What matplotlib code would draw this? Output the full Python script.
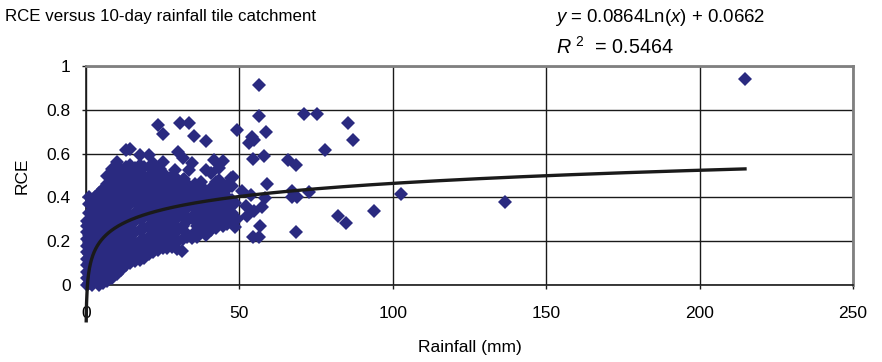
import numpy as np
import matplotlib
matplotlib.use("Agg")
import matplotlib.pyplot as plt

# ---- data ----
# dense cluster, organised by rainfall column (mm) -> RCE values in that column
cluster_rain = [0.3, 1.0, 2.0, 3.0, 4.2, 5.5, 7.0, 8.5, 10.0, 11.5, 13.0, 14.5,
                16.0, 17.5, 19.0, 20.5, 22.0, 23.5, 25.0, 26.5, 28.0, 30.0,
                31.5, 33.0, 34.7, 36.2, 37.5, 39.0, 40.7, 42.5, 44.5, 46.1,
                24.2, 27.3, 29.2, 32.2, 35.5, 38.3, 41.5, 43.5, 45.3, 47.5]
cluster_rce = [
    [0.0, 0.03, 0.06, 0.09, 0.12, 0.15, 0.18, 0.21, 0.24, 0.27, 0.29],
    [0.01, 0.05, 0.10, 0.14, 0.19, 0.23, 0.28, 0.33, 0.37, 0.40],
    [0.0, 0.04, 0.08, 0.12, 0.16, 0.20, 0.25, 0.30, 0.34, 0.38],
    [0.02, 0.06, 0.11, 0.15, 0.19, 0.22, 0.27, 0.31, 0.35, 0.40],
    [0.0, 0.04, 0.09, 0.13, 0.18, 0.23, 0.26, 0.30, 0.34, 0.38, 0.42],
    [0.01, 0.05, 0.08, 0.12, 0.16, 0.21, 0.25, 0.29, 0.33, 0.37, 0.41, 0.44],
    [0.02, 0.06, 0.10, 0.14, 0.18, 0.22, 0.27, 0.31, 0.35, 0.39, 0.43, 0.46, 0.50],
    [0.03, 0.07, 0.11, 0.15, 0.20, 0.24, 0.28, 0.33, 0.37, 0.41, 0.45, 0.49, 0.53],
    [0.05, 0.09, 0.13, 0.17, 0.21, 0.26, 0.30, 0.34, 0.38, 0.42, 0.47, 0.51, 0.56],
    [0.07, 0.11, 0.15, 0.19, 0.23, 0.27, 0.32, 0.36, 0.40, 0.44, 0.48, 0.53],
    [0.09, 0.13, 0.17, 0.22, 0.26, 0.30, 0.35, 0.39, 0.43, 0.46, 0.50, 0.54, 0.615],
    [0.10, 0.14, 0.18, 0.22, 0.28, 0.32, 0.37, 0.41, 0.45, 0.49, 0.52, 0.55, 0.62],
    [0.11, 0.15, 0.19, 0.24, 0.29, 0.33, 0.38, 0.42, 0.46, 0.50, 0.534],
    [0.115, 0.16, 0.20, 0.25, 0.30, 0.35, 0.39, 0.43, 0.48, 0.51, 0.55, 0.595],
    [0.125, 0.17, 0.21, 0.26, 0.31, 0.36, 0.40, 0.45, 0.49, 0.54],
    [0.14, 0.18, 0.22, 0.27, 0.33, 0.37, 0.42, 0.46, 0.50, 0.595],
    [0.15, 0.19, 0.24, 0.29, 0.34, 0.39, 0.43, 0.48, 0.52, 0.557],
    [0.16, 0.20, 0.25, 0.30, 0.36, 0.41, 0.45, 0.50, 0.732],
    [0.168, 0.21, 0.26, 0.32, 0.37, 0.42, 0.47, 0.51, 0.56, 0.69],
    [0.17, 0.22, 0.28, 0.33, 0.39, 0.44, 0.48],
    [0.175, 0.23, 0.29, 0.35, 0.40, 0.45, 0.50],
    [0.20, 0.25, 0.31, 0.36, 0.41, 0.46, 0.607],
    [0.21, 0.27, 0.33, 0.38, 0.44, 0.48, 0.58],
    [0.22, 0.29, 0.35, 0.40, 0.45],
    [0.215, 0.31, 0.37, 0.42, 0.557],
    [0.22, 0.27, 0.34, 0.39, 0.44],
    [0.25, 0.30, 0.36, 0.41, 0.47],
    [0.23, 0.29, 0.34, 0.40, 0.526],
    [0.25, 0.31, 0.37, 0.43, 0.511],
    [0.26, 0.32, 0.36, 0.41, 0.47],
    [0.27, 0.33, 0.39, 0.44, 0.565],
    [0.28, 0.35, 0.40, 0.458],
    [0.18, 0.23, 0.28, 0.34, 0.39, 0.44, 0.48, 0.53],
    [0.19, 0.25, 0.31, 0.37, 0.42, 0.47],
    [0.21, 0.27, 0.33, 0.38, 0.43, 0.49],
    [0.24, 0.30, 0.36, 0.42, 0.47],
    [0.24, 0.29, 0.35, 0.40, 0.46],
    [0.26, 0.32, 0.38, 0.44],
    [0.27, 0.34, 0.39, 0.45],
    [0.29, 0.35, 0.42, 0.48],
    [0.30, 0.37, 0.43],
    [0.33, 0.39, 0.45],
]

# individually visible points
sparse_rain = [29.6, 31.2, 29.0, 30.7, 32.0, 33.7, 33.7, 35.2, 39.2, 41.7, 43.4,
               47.2, 47.8, 48.6, 48.6, 48.6, 49.3, 49.3, 51.0, 52.2, 52.4, 53.0,
               53.7, 54.0, 54.3, 54.3, 54.8, 54.8, 56.4, 56.4, 56.4, 56.7, 57.3,
               58.0, 58.4, 58.6, 58.9, 65.7, 67.0, 67.0, 68.5, 68.5, 68.9, 71.2,
               72.8, 75.2, 77.9, 82.3, 84.7, 85.5, 86.9, 94.0, 102.6, 136.6, 214.8]
sparse_rce = [0.165, 0.155, 0.523, 0.74, 0.484, 0.74, 0.526, 0.682, 0.656, 0.572, 0.534,
              0.488, 0.493, 0.374, 0.267, 0.30, 0.706, 0.30, 0.427, 0.363, 0.313, 0.65,
              0.412, 0.675, 0.575, 0.221, 0.339, 0.66, 0.911, 0.77, 0.221, 0.27, 0.358,
              0.587, 0.397, 0.70, 0.461, 0.569, 0.43, 0.404, 0.549, 0.244, 0.404, 0.783,
              0.423, 0.783, 0.618, 0.316, 0.282, 0.74, 0.664, 0.34, 0.415, 0.377, 0.94]

fit_a, fit_b = 0.0864, 0.0662
x_ticks = [0, 50, 100, 150, 200, 250]
y_ticks = [0, 0.2, 0.4, 0.6, 0.8, 1]
y_tick_labels = ["0", "0.2", "0.4", "0.6", "0.8", "1"]

# ---- figure ----
plt.rcParams['font.family'] = ['Liberation Sans', 'DejaVu Sans']
plt.rcParams['mathtext.fontset'] = 'custom'
plt.rcParams['mathtext.rm'] = 'Liberation Sans'
plt.rcParams['mathtext.it'] = 'Liberation Sans:italic'
fig = plt.figure(figsize=(8.82, 3.62), dpi=100)
ax = fig.add_axes([86/882, 1 - 285/362, (853 - 86)/882, (285 - 66)/362])

rain = []
rce = []
for xv, ys in zip(cluster_rain, cluster_rce):
    for yv in ys:
        rain.append(xv)
        rce.append(yv)
rain += sparse_rain
rce += sparse_rce

marker_color = '#2A2A80'
ax.plot(rain, rce, linestyle='none', marker='D', markersize=7.2,
        color=marker_color, markeredgewidth=0, clip_on=False, zorder=3)

xf = np.linspace(0.07, max(rain), 2000)
ax.plot(xf, fit_a * np.log(xf) + fit_b, color='#1a1a1a', lw=2.4,
        clip_on=False, zorder=4)

ax.set_xlim(0, 250)
ax.set_ylim(0, 1)
ax.set_xticks(x_ticks)
ax.set_yticks(y_ticks)
ax.set_yticklabels(y_tick_labels)
ax.grid(True, color='#1a1a1a', lw=1.0)
ax.set_axisbelow(True)
for s in ['left', 'bottom']:
    ax.spines[s].set_color('#1a1a1a')
    ax.spines[s].set_linewidth(1.2)
for s in ['top', 'right']:
    ax.spines[s].set_color('#808080')
    ax.spines[s].set_linewidth(2.0)
ax.tick_params(axis='both', direction='out', length=3, width=1, color='#1a1a1a',
               labelsize=12.5)
ax.tick_params(axis='y', pad=8)
ax.tick_params(axis='x', pad=12)

ax.set_xlabel('Rainfall (mm)', fontsize=12.5, labelpad=14)
ax.set_ylabel('RCE', fontsize=12.5, labelpad=12)

fig.text(5/882, 1 - 17/362, 'RCE versus 10-day rainfall tile catchment',
         fontsize=12.2, va='center', ha='left')
fig.text(555/882, 1 - 17/362, r'$\it{y}$ = 0.0864Ln$\it{(x)}$ + 0.0662',
         fontsize=13.4, va='center', ha='left')
fig.text(556/882, 1 - 47/362, r'$\it{R}^{\ 2}$  = 0.5464',
         fontsize=14.2, va='center', ha='left')

fig.savefig('out.png', dpi=100)
